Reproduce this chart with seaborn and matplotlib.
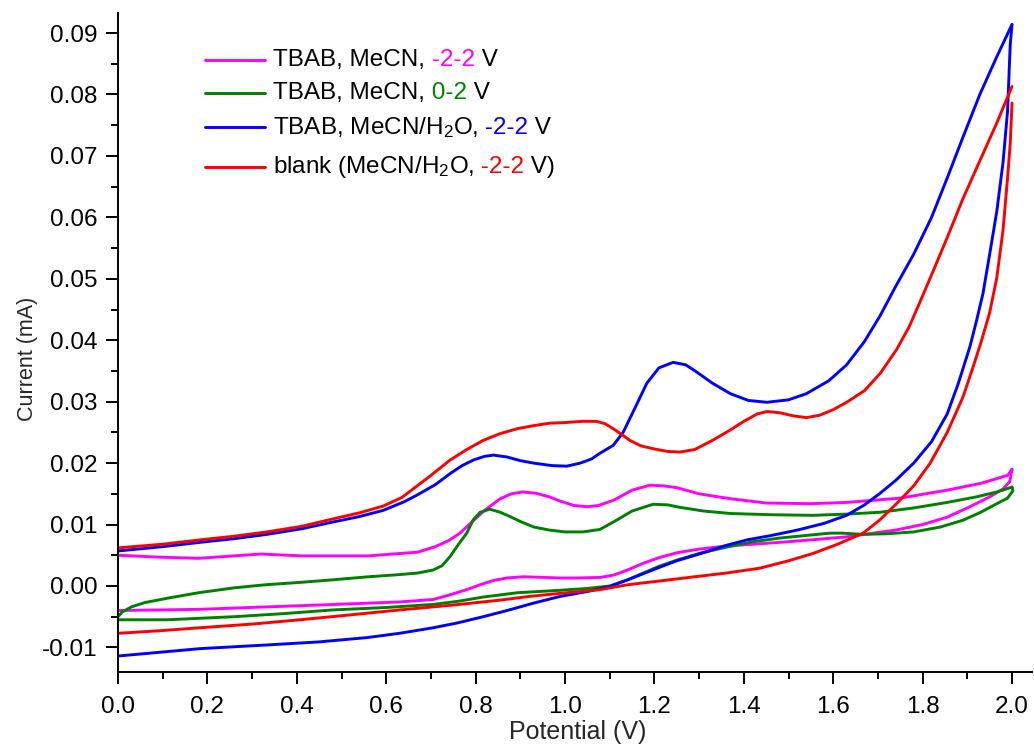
import numpy as np
import pandas as pd
import matplotlib
matplotlib.use("Agg")
import matplotlib.pyplot as plt
import seaborn as sns
from matplotlib.lines import Line2D
from matplotlib.ticker import MultipleLocator, FuncFormatter
from matplotlib.offsetbox import (AnchoredOffsetbox, DrawingArea, HPacker,
                                  TextArea, VPacker)

# ---- cyclic voltammograms: anodic (forward) and return branches -------------
# TBAB, MeCN, -2-2 V
mag_v_fwd = [0.0, 0.09, 0.18, 0.32, 0.41, 0.56, 0.67, 0.71, 0.74, 0.765, 0.79,
             0.82, 0.855, 0.88, 0.905, 0.935, 0.965, 0.99, 1.02, 1.05, 1.075,
             1.11, 1.15, 1.19, 1.22, 1.25, 1.3, 1.37, 1.45, 1.55, 1.63, 1.75,
             1.855, 1.93, 1.99, 2.0]
mag_i_fwd = [0.0050, 0.0047, 0.0045, 0.0052, 0.0049, 0.0049, 0.0055, 0.0064,
             0.0074, 0.0086, 0.0103, 0.0123, 0.0142, 0.0150, 0.0153, 0.0151,
             0.0145, 0.0138, 0.0131, 0.0129, 0.0131, 0.0140, 0.0156, 0.0164,
             0.0163, 0.0160, 0.0150, 0.0142, 0.0135, 0.0134, 0.0136, 0.0143,
             0.0156, 0.0167, 0.0180, 0.0190]
mag_v_rev = [2.0, 1.995, 1.98, 1.95, 1.9, 1.855, 1.8, 1.74, 1.68, 1.63, 1.55,
             1.48, 1.42, 1.36, 1.3, 1.25, 1.21, 1.175, 1.14, 1.11, 1.08, 1.03,
             0.99, 0.95, 0.906, 0.87, 0.84, 0.81, 0.78, 0.74, 0.705, 0.63, 0.557,
             0.45, 0.333, 0.183, 0.0]
mag_i_rev = [0.0190, 0.0170, 0.0158, 0.0145, 0.0127, 0.0112, 0.0100, 0.0091,
             0.0085, 0.0080, 0.0075, 0.0071, 0.0068, 0.0065, 0.0060, 0.0054,
             0.0046, 0.0037, 0.0026, 0.0018, 0.0014, 0.0013, 0.0013, 0.0014,
             0.0015, 0.0013, 0.0009, 0.0002, -0.0006, -0.0015, -0.0022, -0.0026,
             -0.0028, -0.0031, -0.0034, -0.0038, -0.0040]

# TBAB, MeCN, 0-2 V
grn_v_fwd = [0.0, 0.01, 0.03, 0.06, 0.11, 0.18, 0.26, 0.33, 0.41, 0.48, 0.56,
             0.62, 0.67, 0.705, 0.725, 0.743, 0.76, 0.78, 0.795, 0.81, 0.832,
             0.855, 0.877, 0.90, 0.93, 0.965, 1.0, 1.04, 1.078, 1.108, 1.15,
             1.197, 1.23, 1.257, 1.31, 1.37, 1.46, 1.555, 1.63, 1.705, 1.78,
             1.855, 1.92, 1.966, 2.0]
grn_i_fwd = [-0.0050, -0.0042, -0.0034, -0.0027, -0.0020, -0.0011, -0.0003,
             0.0002, 0.0006, 0.0010, 0.0015, 0.0018, 0.0021, 0.0026, 0.0033,
             0.0048, 0.0066, 0.0086, 0.0108, 0.0120, 0.0125, 0.0120, 0.0113,
             0.0105, 0.0096, 0.0091, 0.0088, 0.0088, 0.0092, 0.0104, 0.0122,
             0.0133, 0.0132, 0.0128, 0.0122, 0.0118, 0.0116, 0.0115, 0.0117,
             0.0120, 0.0127, 0.0136, 0.0145, 0.0153, 0.0161]
grn_v_rev = [2.0, 2.002, 1.99, 1.966, 1.93, 1.89, 1.84, 1.78, 1.72, 1.667, 1.62,
             1.593, 1.55, 1.48, 1.42, 1.36, 1.3, 1.25, 1.21, 1.175, 1.14, 1.1,
             1.05, 0.989, 0.893, 0.817, 0.76, 0.705, 0.6, 0.48, 0.37, 0.26, 0.11,
             0.0]
grn_i_rev = [0.0161, 0.0155, 0.0143, 0.0134, 0.0120, 0.0107, 0.0096, 0.0088,
             0.0085, 0.0084, 0.0086, 0.0086, 0.0083, 0.0078, 0.0072, 0.0063,
             0.0053, 0.0042, 0.0032, 0.0021, 0.0010, 0.0000, -0.0004, -0.0007,
             -0.0011, -0.0018, -0.0025, -0.0030, -0.0035, -0.0039, -0.0045,
             -0.0050, -0.0055, -0.0055]

# TBAB, MeCN/H2O, -2-2 V
blu_v_fwd = [0.0, 0.1, 0.183, 0.26, 0.333, 0.41, 0.48, 0.54, 0.593, 0.64,
             0.669, 0.71, 0.743, 0.77, 0.795, 0.82, 0.84, 0.87, 0.9, 0.93, 0.97,
             1.004, 1.034, 1.06, 1.078, 1.108, 1.13, 1.16, 1.183, 1.21, 1.242,
             1.27, 1.295, 1.33, 1.37, 1.41, 1.452, 1.50, 1.54, 1.59, 1.63, 1.67,
             1.705, 1.74, 1.78, 1.82, 1.855, 1.89, 1.928, 1.965, 2.0]
blu_i_fwd = [0.0057, 0.0064, 0.0071, 0.0077, 0.0084, 0.0093, 0.0104, 0.0113,
             0.0123, 0.0137, 0.0148, 0.0165, 0.0183, 0.0196, 0.0205, 0.0211,
             0.0213, 0.0210, 0.0204, 0.0200, 0.0196, 0.0195, 0.0200, 0.0207,
             0.0216, 0.0229, 0.0250, 0.0295, 0.0330, 0.0355, 0.0364, 0.0360,
             0.0348, 0.0330, 0.0313, 0.0302, 0.0299, 0.0303, 0.0313, 0.0334,
             0.0360, 0.0398, 0.0440, 0.0488, 0.0540, 0.0600, 0.0664, 0.0730,
             0.0800, 0.0860, 0.0914]
blu_v_rev = [2.0, 1.996, 1.99, 1.98, 1.966, 1.95, 1.935, 1.92, 1.906, 1.88,
             1.855, 1.82, 1.78, 1.74, 1.705, 1.67, 1.63, 1.58, 1.52, 1.46, 1.407,
             1.36, 1.3, 1.25, 1.21, 1.175, 1.14, 1.1, 1.05, 0.989, 0.929, 0.87,
             0.817, 0.76, 0.705, 0.63, 0.557, 0.45, 0.333, 0.183, 0.0]
blu_i_rev = [0.0914, 0.0881, 0.0773, 0.0690, 0.0610, 0.0540, 0.0476, 0.0430,
             0.0390, 0.0330, 0.0280, 0.0235, 0.0200, 0.0172, 0.0151, 0.0132,
             0.0115, 0.0102, 0.0091, 0.0082, 0.0075, 0.0066, 0.0052, 0.0041,
             0.0030, 0.0020, 0.0010, -0.0001, -0.0009, -0.0017, -0.0028,
             -0.0040, -0.0050, -0.0060, -0.0068, -0.0077, -0.0084, -0.0091,
             -0.0096, -0.0102, -0.0114]

# blank (MeCN/H2O, -2-2 V)
red_v_fwd = [0.0, 0.1, 0.183, 0.26, 0.333, 0.41, 0.48, 0.54, 0.593, 0.635, 0.70,
             0.743, 0.78, 0.817, 0.855, 0.893, 0.93, 0.966, 1.0, 1.04, 1.07,
             1.09, 1.11, 1.13, 1.145, 1.17, 1.2, 1.23, 1.257, 1.29, 1.33, 1.37,
             1.40, 1.43, 1.452, 1.48, 1.51, 1.54, 1.57, 1.60, 1.63, 1.67, 1.705,
             1.742, 1.77, 1.794, 1.825, 1.855, 1.89, 1.928, 1.965, 2.0]
red_i_fwd = [0.0062, 0.0068, 0.0075, 0.0081, 0.0088, 0.0097, 0.0109, 0.0119,
             0.0130, 0.0144, 0.0180, 0.0205, 0.0222, 0.0237, 0.0248, 0.0256,
             0.0261, 0.0265, 0.0266, 0.0268, 0.0268, 0.0264, 0.0255, 0.0245,
             0.0237, 0.0228, 0.0223, 0.0219, 0.0218, 0.0222, 0.0237, 0.0254,
             0.0268, 0.0280, 0.0284, 0.0282, 0.0277, 0.0274, 0.0278, 0.0287,
             0.0299, 0.0318, 0.0346, 0.0385, 0.0422, 0.0462, 0.0515, 0.0567,
             0.0630, 0.0692, 0.0752, 0.0813]
red_v_rev = [2.0, 1.996, 1.99, 1.98, 1.966, 1.95, 1.93, 1.91, 1.89, 1.855, 1.817,
             1.78, 1.743, 1.705, 1.667, 1.61, 1.555, 1.5, 1.436, 1.36, 1.29, 1.21,
             1.14, 1.078, 0.989, 0.92, 0.855, 0.75, 0.63, 0.52, 0.407, 0.3, 0.183,
             0.09, 0.0]
red_i_rev = [0.0786, 0.0720, 0.0664, 0.0580, 0.0502, 0.0445, 0.0395, 0.0350,
             0.0307, 0.0250, 0.0200, 0.0163, 0.0135, 0.0108, 0.0086, 0.0068,
             0.0053, 0.0041, 0.0029, 0.0021, 0.0015, 0.0008, 0.0002, -0.0006,
             -0.0012, -0.0017, -0.0023, -0.0031, -0.0039, -0.0047, -0.0055,
             -0.0062, -0.0068, -0.0073, -0.0077]

series_names = ["mag", "grn", "blu", "red"]
series_colors = ["#FF00FF", "#008000", "#0000FF", "#FF0000"]
branches = {
    "mag": (mag_v_fwd, mag_i_fwd, mag_v_rev, mag_i_rev),
    "grn": (grn_v_fwd, grn_i_fwd, grn_v_rev, grn_i_rev),
    "blu": (blu_v_fwd, blu_i_fwd, blu_v_rev, blu_i_rev),
    "red": (red_v_fwd, red_i_fwd, red_v_rev, red_i_rev),
}

# legend text split into black / coloured runs
legend_pieces = [
    [("TBAB, MeCN,", "k"), (" -2-2", "#FF00FF"), (" V", "k")],
    [("TBAB, MeCN,", "k"), (" 0-2", "#008000"), (" V", "k")],
    [(r"TBAB, MeCN/H$_\mathregular{2}$O,", "k"), (" -2-2", "#0000FF"), (" V", "k")],
    [(r"blank (MeCN/H$_\mathregular{2}$O,", "k"), (" -2-2", "#FF0000"), (" V)", "k")],
]

y_ticks = [-0.01, 0.00, 0.01, 0.02, 0.03, 0.04, 0.05, 0.06, 0.07, 0.08, 0.09]
x_ticks = [0.0, 0.2, 0.4, 0.6, 0.8, 1.0, 1.2, 1.4, 1.6, 1.8, 2.0]

# ---- long-form table for seaborn --------------------------------------------
rows = []
for name in series_names:
    vf, i_f, vr, i_r = branches[name]
    for k, (v, i) in enumerate(zip(vf, i_f)):
        rows.append((name, "fwd", k, v, i))
    for k, (v, i) in enumerate(zip(vr, i_r)):
        rows.append((name, "rev", k, v, i))
df = pd.DataFrame(rows, columns=["series", "branch", "step", "V", "I"])

# ---- style --------------------------------------------------------------------
sns.set_style("ticks")
plt.rcParams["font.family"] = ["Liberation Sans", "DejaVu Sans"]
plt.rcParams["mathtext.fontset"] = "custom"
plt.rcParams["mathtext.rm"] = "Liberation Sans"
plt.rcParams["mathtext.it"] = "Liberation Sans:italic"
plt.rcParams["mathtext.bf"] = "Liberation Sans:bold"
plt.rcParams["axes.unicode_minus"] = False

fig = plt.figure(figsize=(10.34, 7.47), dpi=100)
W, H = 1034, 747
ax = fig.add_axes([118 / W, 1 - 672 / H, (1032 - 118) / W, (672 - 13) / H])

sns.lineplot(data=df, x="V", y="I", hue="series", units="branch",
             estimator=None, sort=False, hue_order=series_names,
             palette=series_colors, linewidth=2.1, legend=False, ax=ax)
for ln in ax.lines:
    ln.set_solid_joinstyle("round")

ax.set_xlim(0.0, 2.0447)
ax.set_ylim(-0.0140, 0.09326)

for side in ("top", "right"):
    ax.spines[side].set_visible(False)
for side in ("left", "bottom"):
    ax.spines[side].set_linewidth(1.4)
    ax.spines[side].set_color("black")

ax.set_xticks(x_ticks)
ax.set_yticks(y_ticks)
ax.xaxis.set_minor_locator(MultipleLocator(0.1))
ax.yaxis.set_minor_locator(MultipleLocator(0.005))
ax.xaxis.set_major_formatter(FuncFormatter(lambda v, p: f"{round(v, 1) + 0:.1f}"))
ax.yaxis.set_major_formatter(FuncFormatter(lambda v, p: f"{round(v, 2) + 0:.2f}"))
ax.tick_params(which="major", direction="out", length=8.5, width=1.4,
               labelsize=17.5, colors="black", pad=6)
ax.tick_params(which="minor", direction="out", length=5, width=1.4, colors="black")
ax.tick_params(axis="x", which="major", pad=9)

ax.set_xlabel("Potential (V)", fontsize=18)
ax.set_ylabel("Current (mA)", fontsize=15.5)
ax.xaxis.set_label_coords(0.503, -0.073)
ax.yaxis.set_label_coords(-0.088, 0.475)

# ---- legend with multi-coloured labels ----------------------------------------
fs = 17.5
rows_box = []
for color, pieces in zip(series_colors, legend_pieces):
    da = DrawingArea(43, 8, 0, 0)
    da.add_artist(Line2D([0, 43], [4, 4], color=color, lw=2.1))
    texts = [TextArea(t, textprops=dict(color=c, fontsize=fs)) for t, c in pieces]
    label = HPacker(children=texts, align="baseline", pad=0, sep=0)
    rows_box.append(HPacker(children=[da, label], align="center", pad=0, sep=5.8))
upper_rows = VPacker(children=rows_box[:3], align="left", pad=0, sep=7.8)
legend_box = VPacker(children=[upper_rows, rows_box[3]], align="left", pad=0,
                     sep=10.5)
anchored = AnchoredOffsetbox(loc="upper left", child=legend_box, pad=0,
                             borderpad=0, frameon=False,
                             bbox_to_anchor=(205 / W, 1 - 49 / H),
                             bbox_transform=fig.transFigure)
ax.add_artist(anchored)

fig.savefig("out.png", dpi=100)
